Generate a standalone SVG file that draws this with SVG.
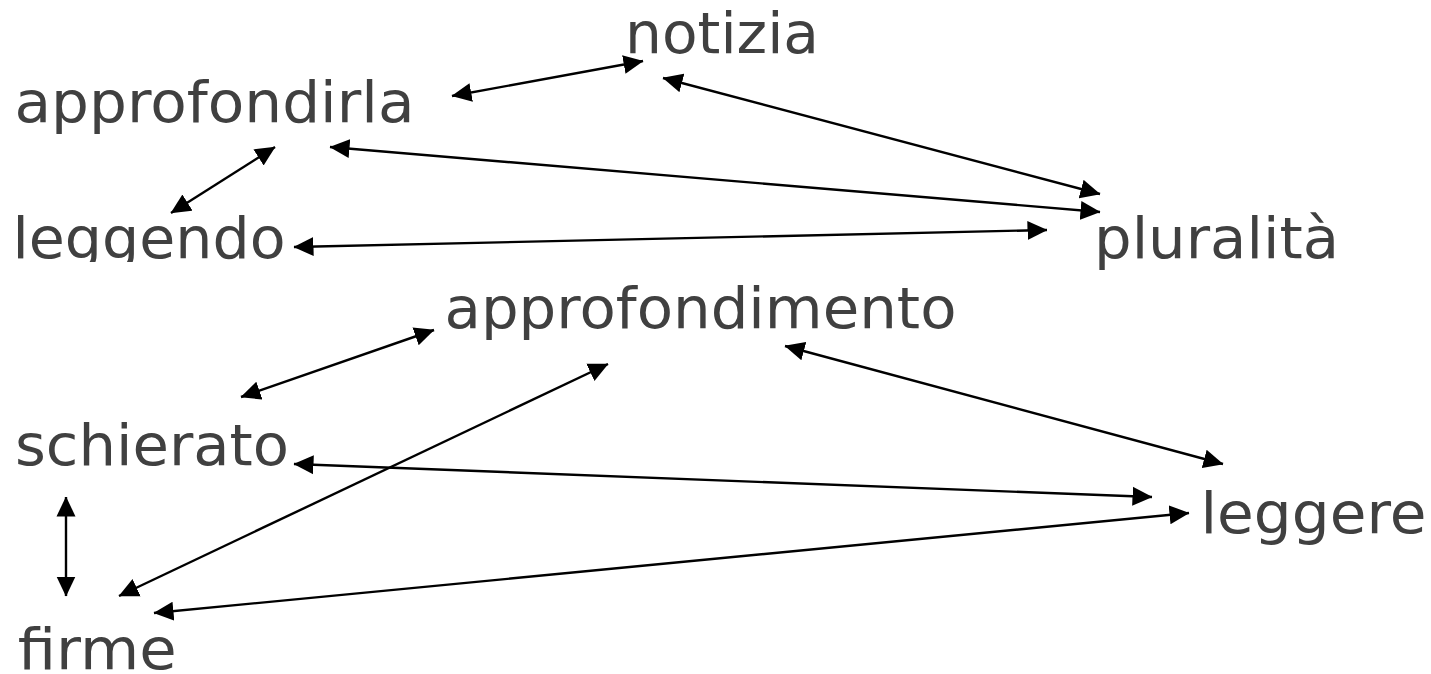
<svg xmlns="http://www.w3.org/2000/svg" width="1431" height="674" viewBox="0 0 1431 674">
<style>
.lbl{font-family:"DejaVu Sans","Verdana",sans-serif;font-size:57px;fill:#404040}
.con{stroke:#000;stroke-width:2.4;fill:none;marker-start:url(#ah);marker-end:url(#ah)}
</style>
<defs>
<marker id="ah" markerUnits="userSpaceOnUse" markerWidth="20" markerHeight="20" viewBox="0 0 20 20" refX="19.5" refY="10" orient="auto-start-reverse">
<path d="M0,0.5 L20,10 L0,19.5 z" fill="#000"/>
</marker>
<clipPath id="clipLeggendo"><rect x="0" y="190" width="320" height="72"/></clipPath>
</defs>
<rect width="1431" height="674" fill="#fff"/>
<g id="connectors">
<line class="con" x1="452" y1="96" x2="643" y2="61"/>
<line class="con" x1="663" y1="78" x2="1100" y2="194"/>
<line class="con" x1="330" y1="147" x2="1100" y2="212"/>
<line class="con" x1="275" y1="147" x2="171" y2="213"/>
<line class="con" x1="294" y1="247" x2="1047" y2="230"/>
<line class="con" x1="434" y1="330" x2="241" y2="397"/>
<line class="con" x1="608" y1="364" x2="119" y2="596"/>
<line class="con" x1="294" y1="464" x2="1152" y2="497"/>
<line class="con" x1="66" y1="497" x2="66" y2="596"/>
<line class="con" x1="154" y1="613" x2="1189" y2="513"/>
<line class="con" x1="785" y1="346" x2="1223" y2="464"/>
</g>
<g id="node-notizia"><text class="lbl" x="625" y="53" textLength="194" lengthAdjust="spacingAndGlyphs">notizia</text></g>
<g id="node-approfondirla"><text class="lbl" x="14.5" y="122" textLength="400" lengthAdjust="spacingAndGlyphs">approfondirla</text></g>
<g id="node-leggendo" clip-path="url(#clipLeggendo)"><text class="lbl" x="12.5" y="258" textLength="273" lengthAdjust="spacingAndGlyphs">leggendo</text></g>
<g id="node-pluralita"><text class="lbl" x="1094" y="258" textLength="245" lengthAdjust="spacingAndGlyphs">pluralità</text></g>
<g id="node-approfondimento"><text class="lbl" x="444.5" y="328" textLength="512" lengthAdjust="spacingAndGlyphs">approfondimento</text></g>
<g id="node-schierato"><text class="lbl" x="15" y="465" textLength="274" lengthAdjust="spacingAndGlyphs">schierato</text></g>
<g id="node-leggere"><text class="lbl" x="1200.5" y="533" textLength="226" lengthAdjust="spacingAndGlyphs">leggere</text></g>
<g id="node-firme"><text class="lbl" x="17.7" y="669" textLength="159" lengthAdjust="spacingAndGlyphs">firme</text></g>
</svg>
